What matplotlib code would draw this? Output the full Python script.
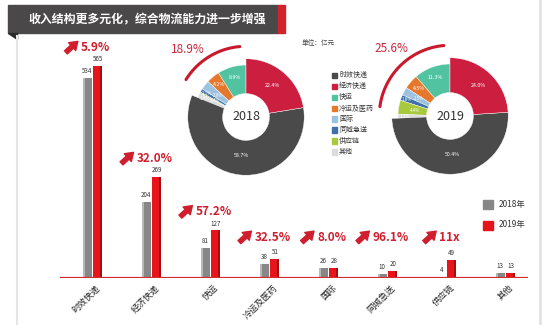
import numpy as np
import matplotlib
matplotlib.use('Agg')
import matplotlib.pyplot as plt
from matplotlib.patches import Rectangle, Polygon
from matplotlib.lines import Line2D
from matplotlib.transforms import offset_copy

plt.rcParams['font.family'] = ['Noto Sans CJK SC', 'DejaVu Sans']

# data
categories = ['时效快递', '经济快递', '快运', '冷运及医药', '国际', '同城急送', '供应链', '其他']
rev_2018 = [534, 204, 81, 38, 26, 10, 4, 13]
rev_2019 = [565, 269, 127, 51, 28, 20, 49, 13]
growth = ['5.9%', '32.0%', '57.2%', '32.5%', '8.0%', '96.1%', '11x', '']
years = ['2018', '2019']
other_share = ['18.9%', '25.6%']
title = '收入结构更多元化，综合物流能力进一步增强'
pie_colors = ['#4a4a4a', '#cc1f40', '#52c3a0', '#e5782c', '#9cc2e0', '#3f70aa', '#a9c93d', '#dcdcdc']

W, H = 553, 325
RED = '#e8141c'
TXT_RED = '#cf1f2e'


def fx(x):
    return x / W


def fy(y):
    return 1 - y / H


fig = plt.figure(figsize=(W / 100, H / 100), dpi=100)

# page edges
fig.add_artist(Line2D([fx(17)] * 2, [0, fy(36)], color='#e6e6e6', lw=1.5, transform=fig.transFigure))
fig.add_artist(Line2D([fx(540)] * 2, [0, 1], color='#e2e2e2', lw=2, transform=fig.transFigure))

# title banner
fig.add_artist(Rectangle((fx(8), fy(33)), 270 / W, 28 / H, color='#4b4849', transform=fig.transFigure))
fig.add_artist(Rectangle((fx(278), fy(33)), 7 / W, 28 / H, color='#d0232c', transform=fig.transFigure))
fig.add_artist(Polygon([(fx(8), fy(33)), (fx(17), fy(33)), (fx(17), fy(39))], color='#2b2829',
                       transform=fig.transFigure))
fig.text(fx(28), fy(19.5), title, color='white', fontsize=8.6, fontweight='bold', ha='left', va='center')

# bar chart
ax = fig.add_axes([fx(60), fy(278), 468 / W, 262.5 / H])
ax.set_xlim(-0.551, 7.381)
ax.set_ylim(0, 700)
ax.axis('off')
x = np.arange(len(categories))
bw, off = 0.15, 0.09
ax.bar(x - off, rev_2018, bw, color='#878787', zorder=2)
ax.bar(x - off - bw / 2 + 0.015, rev_2018, 0.03, color='#b8b8b8', zorder=3)
ax.bar(x + off, rev_2019, bw, color=RED, zorder=2)
ax.bar(x + off + bw / 2 - 0.018, rev_2019, 0.036, color='#a50d13', zorder=3)
ax.axhline(0, color='#d52b2b', lw=1.6, zorder=4)

for i in x:
    ax.annotate(str(rev_2018[i]), (i - off, rev_2018[i]), xytext=(0, 2), textcoords='offset points',
                ha='center', va='bottom', fontsize=4.5, color='#333333')
    ax.annotate(str(rev_2019[i]), (i + off, rev_2019[i]), xytext=(0, 2), textcoords='offset points',
                ha='center', va='bottom', fontsize=4.5, color='#333333')
    ax.annotate(categories[i], (i, 0), xytext=(4.5, -6), textcoords='offset points', rotation=45,
                ha='right', va='center', rotation_mode='anchor', fontsize=6.3, color='#222222')

# growth labels with arrows
renderer = fig.canvas.get_renderer()
for i, g in enumerate(growth):
    if not g:
        continue
    y = max(rev_2019[i] + 50, 109)
    t = ax.annotate(g, (i, y), xytext=(0, 0), textcoords='offset points', ha='left', va='center',
                    fontsize=8.5, color=TXT_RED, fontweight='bold')
    w = t.get_window_extent(renderer).width
    left = -5 - (16 + w) / 2
    t.xyann = ((left + 16) * 0.72, 0)
    tip = (left + 13, 6)
    tail = (left + 1, -5)
    ax.annotate('', xy=(i, y), xycoords=offset_copy(ax.transData, fig=fig, x=tip[0], y=tip[1], units='dots'),
                xytext=((tail[0] - tip[0]) * 0.72, (tail[1] - tip[1]) * 0.72), textcoords='offset points',
                arrowprops=dict(arrowstyle='simple,head_length=0.7,head_width=0.95,tail_width=0.38',
                                color=TXT_RED, mutation_scale=8, shrinkA=0, shrinkB=0))

# donuts
order = [2, 3, 4, 5, 6, 7, 0, 1]
centers = [(246, 117), (450, 116)]
for k, vals in enumerate([rev_2018, rev_2019]):
    cx, cy = centers[k]
    pax = fig.add_axes([fx(cx - 78), fy(cy + 78), 156 / W, 156 / H])
    wedges, texts, autotexts = pax.pie([vals[j] for j in order], colors=[pie_colors[j] for j in order],
                                       startangle=90, counterclock=True, radius=1,
                                       wedgeprops=dict(width=0.55, edgecolor='white', linewidth=0.3),
                                       autopct='%.1f%%', pctdistance=0.8,
                                       textprops=dict(fontsize=3.8, color='white'))
    for wdg in wedges[6:]:
        wdg.set_radius(1.12)
        wdg.set_width(1.12 - 0.45)
    # stagger the labels of the thin slices
    for n, s in zip(range(2, 6), [0.86, 1.1, 0.86, 1.1]):
        px_, py_ = autotexts[n].get_position()
        autotexts[n].set_position((px_ * s, py_ * s))
        autotexts[n].set_fontsize(3.2)
    px_, py_ = autotexts[6].get_position()
    autotexts[6].set_position((px_ * 0.92, py_ * 0.92))
    pax.set_xlim(-1.5, 1.5)
    pax.set_ylim(-1.5, 1.5)
    pax.axis('off')
    pax.text(0, 0, years[k], ha='center', va='center', fontsize=9, color='#333333')
    share = sum(vals[j] for j in order[:6]) / sum(vals)
    th = np.radians(np.linspace(95, 90 + share * 360 - 10, 60))
    pax.plot(1.36 * np.cos(th), 1.36 * np.sin(th), color='#c81a2c', lw=2.2, solid_capstyle='round')
    a = np.radians(131)
    pax.text(1.72 * np.cos(a), 1.72 * np.sin(a), other_share[k], ha='center', va='center',
             fontsize=8.5, color='#c8283c')

# category legend
fig.text(fx(302), fy(43), '单位：亿元', fontsize=4.8, color='#444444', ha='left', va='center')
for k, name in enumerate(categories):
    yy = 75 + 11 * k
    fig.add_artist(Rectangle((fx(332), fy(yy + 2.5)), 5 / W, 5 / H, color=pie_colors[k],
                             transform=fig.transFigure))
    fig.text(fx(339), fy(yy), name, fontsize=5, color='#333333', ha='left', va='center')

# year legend
for k, (lab, col) in enumerate([('2018年', '#878787'), ('2019年', RED)]):
    yy = 204 + 21 * k
    fig.add_artist(Rectangle((fx(483), fy(yy + 4.5)), 10 / W, 9 / H, color=col, transform=fig.transFigure))
    fig.text(fx(499), fy(yy), lab, fontsize=6, color='#333333', ha='left', va='center')

fig.savefig('out.png', dpi=100)
